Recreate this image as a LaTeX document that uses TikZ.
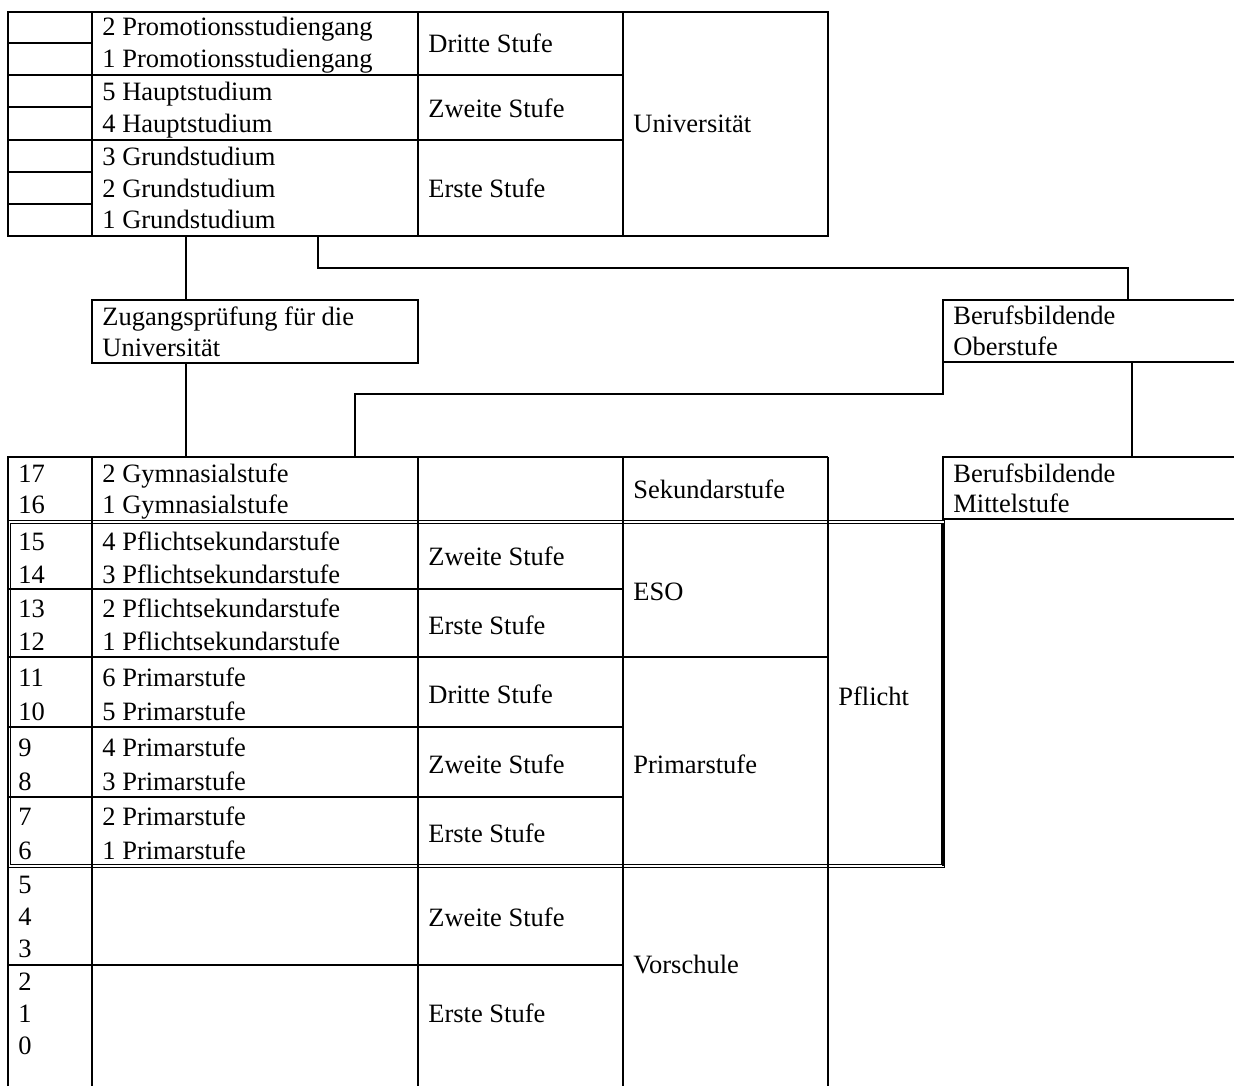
\documentclass[tikz,border=0pt]{standalone}
\usepackage{fontspec}
\setmainfont{Liberation Serif}
\usetikzlibrary{fit}
\begin{document}
\begin{tikzpicture}[x=0.5pt,y=-0.5pt,
  ln/.style={line width=1pt},
  thinln/.style={line width=0.6pt},
  txt/.style={anchor=base west, inner sep=0pt, font=\fontsize{13.25}{15.5}\selectfont},
  boxnode/.style={inner sep=0pt, line width=1pt}]
\useasboundingbox (0,0) rectangle (1234,1086);
\fill[white] (0,0) rectangle (1234,1086);

% ---------- top table (Universitaet) ----------
\draw[ln] (8,12) rectangle (828,236);
\foreach \x in {92,418,623} \draw[ln] (\x,12) -- (\x,236);
\foreach \y in {43,75.5,107,139.5,172,204} \draw[ln] (8,\y) -- (92,\y);
\foreach \y in {75.5,139.5} \draw[ln] (92,\y) -- (623,\y);

\node[txt] (u1) at (102,36) {2 Promotionsstudiengang};
\node[txt] (u2) at (102,68) {1 Promotionsstudiengang};
\node[txt] (u3) at (102,100) {5 Hauptstudium};
\node[txt] (u4) at (102,132) {4 Hauptstudium};
\node[txt] (u5) at (102,165) {3 Grundstudium};
\node[txt] (u6) at (102,197) {2 Grundstudium};
\node[txt] (u7) at (102,228) {1 Grundstudium};
\node[txt] (us3) at (428,53) {Dritte Stufe};
\node[txt] (us2) at (428,117) {Zweite Stufe};
\node[txt] (us1) at (428,197) {Erste Stufe};
\node[txt] (uni) at (633,133) {Universität};

% ---------- middle boxes ----------
\coordinate (z1) at (92,300);
\coordinate (z2) at (418,363);
\node[boxnode, draw, fit=(z1)(z2)] (zug) {};
\node[txt] (zt1) at (102,325) {Zugangsprüfung für die};
\node[txt] (zt2) at (102,356) {Universität};

\coordinate (obNW) at (943,300);
\coordinate (obSW) at (943,362);
\draw[ln] (1234,300) -- (obNW) -- (obSW) -- (1234,362);
\node[txt] (ob1) at (953,324) {Berufsbildende};
\node[txt] (ob2) at (953,355) {Oberstufe};

\coordinate (miNW) at (943,457);
\coordinate (miSW) at (943,519);
\draw[ln] (1234,457) -- (miNW) -- (miSW) -- (1234,519);
\node[txt] (mi1) at (953,482) {Berufsbildende};
\node[txt] (mi2) at (953,512) {Mittelstufe};

% ---------- connectors ----------
\coordinate (topA) at (186,236);
\coordinate (topB) at (318,236);
\coordinate (bendA) at (0,268);
\coordinate (obTop) at (1128,300);
\coordinate (bendB) at (0,394);
\coordinate (lowA) at (186,457);
\coordinate (lowB) at (355,457);
\coordinate (obBot) at (1132,362);
\coordinate (miTop) at (1132,457);

\draw[ln] (topA) -- (zug.north -| topA);
\draw[ln] (zug.south -| lowA) -- (lowA);
\draw[ln] (topB) -- (topB |- bendA) -- (obTop |- bendA) -- (obTop);
\draw[ln] (obSW) -- (obSW |- bendB) -- (lowB |- bendB) -- (lowB);
\draw[ln] (obBot) -- (miTop);

% ---------- lower table ----------
\draw[ln] (8,1086) -- (8,457) -- (828,457);
\foreach \x in {92,418,623,828} \draw[ln] (\x,457) -- (\x,1086);
\draw[ln] (8,589) -- (623,589);
\draw[ln] (8,657) -- (828,657);
\draw[ln] (8,727) -- (623,727);
\draw[ln] (8,797) -- (623,797);
\draw[ln] (8,965) -- (623,965);
% double frame around compulsory schooling
\draw[thinln] (7.5,520.5) rectangle (944.5,867.5);
\draw[thinln] (10.5,523.5) rectangle (941.5,864.5);
\draw[line width=1.5pt] (943,523) -- (943,866);

% numbers
\foreach \n/\b in {17/482,16/513,15/550,14/583,13/617,12/650,11/686,10/720,9/756,8/790,7/825,6/859,5/893,4/925,3/957,2/990,1/1022,0/1054}
  \node[txt] (n\n) at (18,\b) {\n};

\node[txt] (g2) at (102,482) {2 Gymnasialstufe};
\node[txt] (g1) at (102,513) {1 Gymnasialstufe};
\node[txt] (p4) at (102,550) {4 Pflichtsekundarstufe};
\node[txt] (p3) at (102,583) {3 Pflichtsekundarstufe};
\node[txt] (p2) at (102,617) {2 Pflichtsekundarstufe};
\node[txt] (p1) at (102,650) {1 Pflichtsekundarstufe};
\node[txt] (r6) at (102,686) {6 Primarstufe};
\node[txt] (r5) at (102,720) {5 Primarstufe};
\node[txt] (r4) at (102,756) {4 Primarstufe};
\node[txt] (r3) at (102,790) {3 Primarstufe};
\node[txt] (r2) at (102,825) {2 Primarstufe};
\node[txt] (r1) at (102,859) {1 Primarstufe};

\node[txt] (ls1) at (428,565) {Zweite Stufe};
\node[txt] (ls2) at (428,634) {Erste Stufe};
\node[txt] (ls3) at (428,703) {Dritte Stufe};
\node[txt] (ls4) at (428,773) {Zweite Stufe};
\node[txt] (ls5) at (428,842) {Erste Stufe};
\node[txt] (ls6) at (428,926) {Zweite Stufe};
\node[txt] (ls7) at (428,1022) {Erste Stufe};

\node[txt] (sek) at (633,498) {Sekundarstufe};
\node[txt] (eso) at (633,600) {ESO};
\node[txt] (prim) at (633,773) {Primarstufe};
\node[txt] (vor) at (633,973) {Vorschule};
\node[txt] (pfl) at (838,705) {Pflicht};
\end{tikzpicture}
\end{document}
